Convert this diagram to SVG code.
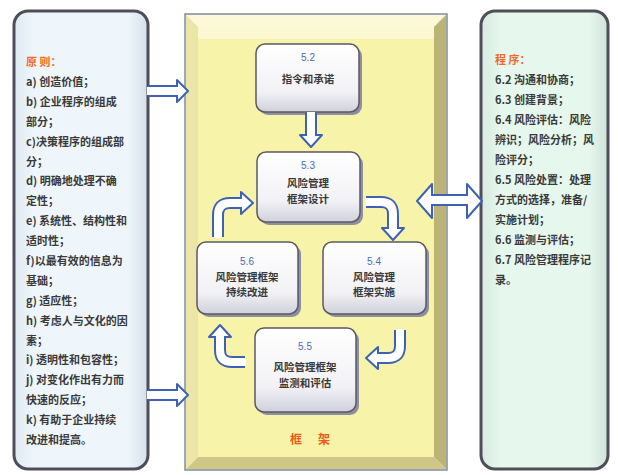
<svg xmlns="http://www.w3.org/2000/svg" width="618" height="475" viewBox="0 0 618 475">
<defs>
<linearGradient id="gLeft" x1="0" y1="0" x2="1" y2="0">
<stop offset="0" stop-color="#dfe9f2"/><stop offset="0.15" stop-color="#eef6fb"/><stop offset="0.85" stop-color="#eef6fb"/><stop offset="1" stop-color="#d5dfe9"/>
</linearGradient>
<linearGradient id="gRight" x1="0" y1="0" x2="1" y2="0">
<stop offset="0" stop-color="#d6eadf"/><stop offset="0.15" stop-color="#e6f7ee"/><stop offset="0.85" stop-color="#e6f7ee"/><stop offset="1" stop-color="#cfe2d8"/>
</linearGradient>
<linearGradient id="gBox" x1="0" y1="0" x2="0" y2="1">
<stop offset="0" stop-color="#ffffff"/><stop offset="0.7" stop-color="#f2f2f6"/><stop offset="1" stop-color="#cfd0da"/>
</linearGradient>
<style>
.panel{stroke:#4e4e58;stroke-width:3}
.box{fill:url(#gBox);stroke:#5a5a66;stroke-width:1.5}
.shadow{fill:#8e90a0}
.t{font-family:"Noto Sans CJK SC","Liberation Sans",sans-serif;font-weight:700;fill:#3a3a3a}
.tl{font-size:11px}
.tr{font-size:11px}
.hd{fill:#ee6a2a}
.fw{fill:#e85a20;font-size:12px}
.num{font-family:"Liberation Sans","Noto Sans CJK SC",sans-serif;font-size:10px;fill:#4a6ab8;text-anchor:middle}
.lab{font-size:10.5px;text-anchor:middle}
.ao{fill:none;stroke:#3d62b4;stroke-width:12}
.ai{fill:none;stroke:#ffffff;stroke-width:8}
.ah{fill:#ffffff;stroke:#3d62b4;stroke-width:2;stroke-linejoin:round}
</style>
</defs>
<rect width="618" height="475" fill="#ffffff"/>

<g id="left-panel">
<rect class="panel" x="14" y="11" width="134" height="458" rx="14" fill="url(#gLeft)"/>
<text class="t tl hd" x="26" y="66">原 则：</text>
<text class="t tl" x="26" y="86">a) 创造价值；</text>
<text class="t tl" x="26" y="106">b) 企业程序的组成</text>
<text class="t tl" x="26" y="126">部分；</text>
<text class="t tl" x="26" y="146">c)决策程序的组成部</text>
<text class="t tl" x="26" y="166">分；</text>
<text class="t tl" x="26" y="185">d) 明确地处理不确</text>
<text class="t tl" x="26" y="205">定性；</text>
<text class="t tl" x="26" y="225">e) 系统性、结构性和</text>
<text class="t tl" x="26" y="245">适时性；</text>
<text class="t tl" x="26" y="265">f)以最有效的信息为</text>
<text class="t tl" x="26" y="285">基础；</text>
<text class="t tl" x="26" y="305">g) 适应性；</text>
<text class="t tl" x="26" y="325">h) 考虑人与文化的因</text>
<text class="t tl" x="26" y="345">素；</text>
<text class="t tl" x="26" y="364">i) 透明性和包容性；</text>
<text class="t tl" x="26" y="384">j) 对变化作出有力而</text>
<text class="t tl" x="26" y="404">快速的反应；</text>
<text class="t tl" x="26" y="424">k) 有助于企业持续</text>
<text class="t tl" x="26" y="444">改进和提高。</text>
</g>

<g id="right-panel">
<rect class="panel" x="481" y="11" width="127" height="458" rx="14" fill="url(#gRight)"/>
<text class="t tr hd" x="495" y="64">程 序：</text>
<text class="t tr" x="495" y="84">6.2 沟通和协商；</text>
<text class="t tr" x="495" y="104">6.3 创建背景；</text>
<text class="t tr" x="495" y="124">6.4 风险评估：风险</text>
<text class="t tr" x="495" y="144">辨识；风险分析；风</text>
<text class="t tr" x="495" y="164">险评分；</text>
<text class="t tr" x="495" y="184">6.5 风险处置：处理</text>
<text class="t tr" x="495" y="204">方式的选择，准备/</text>
<text class="t tr" x="495" y="224">实施计划；</text>
<text class="t tr" x="495" y="244">6.6 监测与评估；</text>
<text class="t tr" x="495" y="264">6.7 风险管理程序记</text>
<text class="t tr" x="495" y="284">录。</text>
</g>

<g id="framework-panel">
<rect x="185" y="14" width="262" height="456" fill="#f4efa4" stroke="#7d8ca6" stroke-width="1.5"/>
<polygon points="186,15 446,15 434,27 198,27" fill="#fbf9d8"/>
<polygon points="446,15 446,469 434,457 434,27" fill="#bcb476"/>
<polygon points="186,469 446,469 434,457 198,457" fill="#cfc788"/>
<polygon points="186,15 198,27 198,457 186,469" fill="#ece6a6"/>
<rect x="198" y="27" width="236" height="430" fill="#f7f3a8"/>
<rect x="198" y="27" width="236" height="12" fill="#fbf9dc" opacity="0.8"/>
<text class="t fw" x="290" y="444">框</text>
<text class="t fw" x="318" y="444">架</text>
</g>

<g id="box-5-2">
<rect class="shadow" x="259" y="47" width="103" height="68" rx="9"/>
<rect class="box" x="256" y="44" width="103" height="68" rx="9"/>
<text class="num" x="308" y="61">5.2</text>
<text class="t lab" x="308" y="83">指令和承诺</text>
</g>

<g id="box-5-3">
<rect class="shadow" x="260" y="155" width="103" height="70" rx="9"/>
<rect class="box" x="257" y="152" width="103" height="70" rx="9"/>
<text class="num" x="308" y="169">5.3</text>
<text class="t lab" x="308" y="187">风险管理</text>
<text class="t lab" x="308" y="203">框架设计</text>
</g>

<g id="box-5-6">
<rect class="shadow" x="200" y="245" width="101" height="72" rx="9"/>
<rect class="box" x="197" y="242" width="101" height="72" rx="9"/>
<text class="num" x="247" y="265">5.6</text>
<text class="t lab" x="247" y="281">风险管理框架</text>
<text class="t lab" x="247" y="296">持续改进</text>
</g>

<g id="box-5-4">
<rect class="shadow" x="326" y="245" width="103" height="72" rx="9"/>
<rect class="box" x="323" y="242" width="103" height="72" rx="9"/>
<text class="num" x="374" y="265">5.4</text>
<text class="t lab" x="374" y="281">风险管理</text>
<text class="t lab" x="374" y="296">框架实施</text>
</g>

<g id="box-5-5">
<rect class="shadow" x="258" y="331" width="101" height="84" rx="9"/>
<rect class="box" x="255" y="328" width="101" height="84" rx="9"/>
<text class="num" x="305" y="350">5.5</text>
<text class="t lab" x="305" y="371">风险管理框架</text>
<text class="t lab" x="305" y="387">监测和评估</text>
</g>

<g id="connectors">
<path class="ao" d="M148,91 H178"/>
<polygon class="ah" points="177,80 188,91 177,102"/>
<path class="ai" d="M147,91 H179"/>
<path class="ao" d="M148,395 H178"/>
<polygon class="ah" points="177,384 188,395 177,406"/>
<path class="ai" d="M147,395 H179"/>
<path class="ao" d="M432,200 H468"/>
<polygon class="ah" points="432,184 417,201 432,218"/>
<polygon class="ah" points="467,184 482,201 467,218"/>
<path class="ai" d="M431,200 H469"/>
<path class="ao" d="M311,113 V136"/>
<polygon class="ah" points="300,135 322,135 311,147"/>
<path class="ai" d="M311,112 V137"/>
<path class="ao" d="M366,202 H381 Q393,202 393,214 V229"/>
<polygon class="ah" points="382,228 404,228 393,240"/>
<path class="ai" d="M365,202 H381 Q393,202 393,214 V230"/>
<path class="ao" d="M400,330 V346 Q400,358 388,358 H378"/>
<polygon class="ah" points="378,347 378,369 366,358"/>
<path class="ai" d="M400,329 V346 Q400,358 388,358 H377"/>
<path class="ao" d="M245,362 H232 Q220,362 220,350 V337"/>
<polygon class="ah" points="209,337 231,337 220,325"/>
<path class="ai" d="M246,362 H232 Q220,362 220,350 V336"/>
<path class="ao" d="M218,237 V215 Q218,203 230,203 H242"/>
<polygon class="ah" points="241,192 241,214 253,203"/>
<path class="ai" d="M218,238 V215 Q218,203 230,203 H243"/>
</g>
</svg>
